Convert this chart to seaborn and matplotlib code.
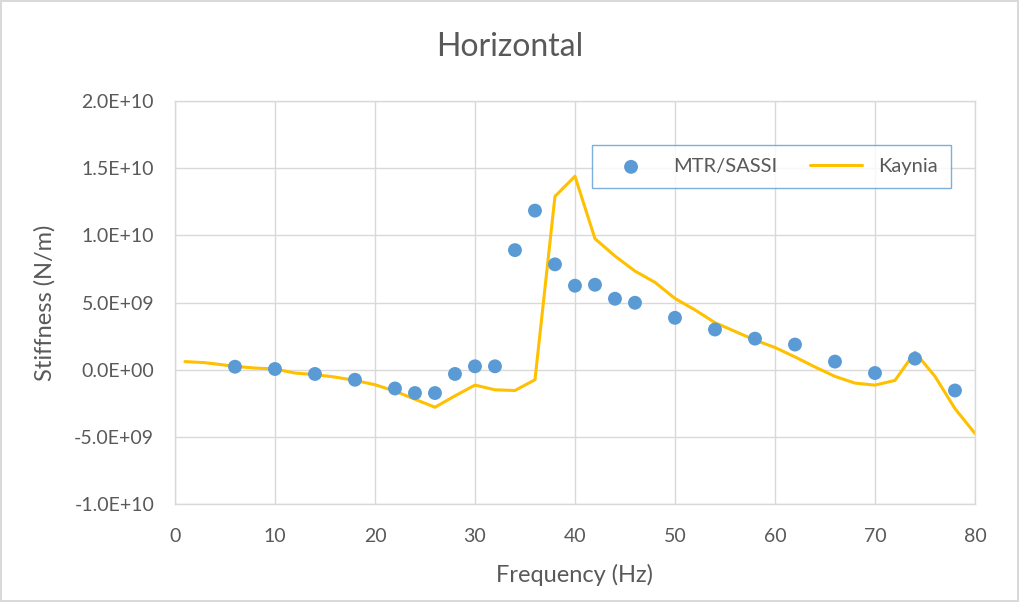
import numpy as np
import pandas as pd
import seaborn as sns
import matplotlib.pyplot as plt
from matplotlib.ticker import FuncFormatter, MultipleLocator

# MTR/SASSI results (frequency in Hz, stiffness in 1e9 N/m)
mtr_freq = [6, 10, 14, 18, 22, 24, 26, 28, 30, 32, 34, 36, 38, 40, 42, 44, 46,
            50, 54, 58, 62, 66, 70, 74, 78]
mtr_stiff = [0.22, 0.05, -0.32, -0.75, -1.40, -1.74, -1.74, -0.32, 0.25, 0.25,
             8.90, 11.84, 7.84, 6.25, 6.32, 5.28, 4.98, 3.86, 2.99, 2.31, 1.87,
             0.60, -0.25, 0.82, -1.55]

# Kaynia results
kay_freq = [1, 3, 6, 8, 10, 12, 14, 16, 18, 20, 22, 24, 26, 28, 30, 32, 34, 36,
            38, 40, 42, 44, 46, 48, 50, 52, 54, 56, 58, 60, 62, 64, 66, 68, 70,
            72, 74, 76, 78, 80]
kay_stiff = [0.60, 0.52, 0.25, 0.12, 0.05, -0.25, -0.37, -0.55, -0.80, -1.12,
             -1.60, -2.20, -2.80, -1.95, -1.15, -1.50, -1.55, -0.75, 12.90, 14.40,
             9.75, 8.46, 7.34, 6.50, 5.30, 4.45, 3.50, 2.85, 2.20, 1.65, 0.95,
             0.20, -0.50, -1.00, -1.15, -0.80, 1.30, -0.50, -2.90, -4.75]

mtr = pd.DataFrame({"freq": mtr_freq, "stiff": np.array(mtr_stiff) * 1e9})
kay = pd.DataFrame({"freq": kay_freq, "stiff": np.array(kay_stiff) * 1e9})

sns.set_theme(style="white")
plt.rcParams["font.family"] = ["Lato", "DejaVu Sans"]
text_color = "#595959"
grid_color = "#D9D9D9"

fig = plt.figure(figsize=(10.19, 6.02), dpi=100)
fig.patch.set_edgecolor("#D9D9D9")
fig.patch.set_linewidth(1.5)
ax = fig.add_axes([0.1717, 0.1628, 0.7851, 0.6694])

sns.scatterplot(data=mtr, x="freq", y="stiff", ax=ax, color="#5B9BD5", s=100,
                edgecolor="none", label="MTR/SASSI", zorder=3)
sns.lineplot(data=kay, x="freq", y="stiff", ax=ax, color="#FFC000", linewidth=2.2,
             label="Kaynia", zorder=2)

ax.set_xlim(0, 80)
ax.set_ylim(-1e10, 2e10)
ax.xaxis.set_major_locator(MultipleLocator(10))
ax.yaxis.set_major_locator(MultipleLocator(5e9))
ax.yaxis.set_major_formatter(FuncFormatter(lambda v, p: f"{v:.1E}"))
ax.grid(True, color=grid_color, linewidth=1)
for s in ax.spines.values():
    s.set_color(grid_color)
    s.set_linewidth(1)
ax.tick_params(axis="both", colors=text_color, labelsize=14, length=0)
ax.tick_params(axis="x", pad=17)
ax.tick_params(axis="y", pad=15)

ax.set_xlabel("Frequency (Hz)", fontsize=17, color=text_color, labelpad=14)
ax.set_ylabel("Stiffness (N/m)", fontsize=17, color=text_color, labelpad=13)
fig.text(0.5, 1 - 47 / 602, "Horizontal", fontsize=23, color=text_color,
         ha="center", va="center")

leg = ax.legend(loc="upper left", bbox_to_anchor=(0.521, 0.891), ncol=2,
                fontsize=14.5, frameon=True, fancybox=False, borderpad=0.65,
                borderaxespad=0, columnspacing=1.6, handlelength=2.6,
                handletextpad=0.8, labelcolor=text_color)
leg.get_frame().set_edgecolor("#5B9BD5")
leg.get_frame().set_linewidth(1)

plt.savefig("out.png", dpi=100)
